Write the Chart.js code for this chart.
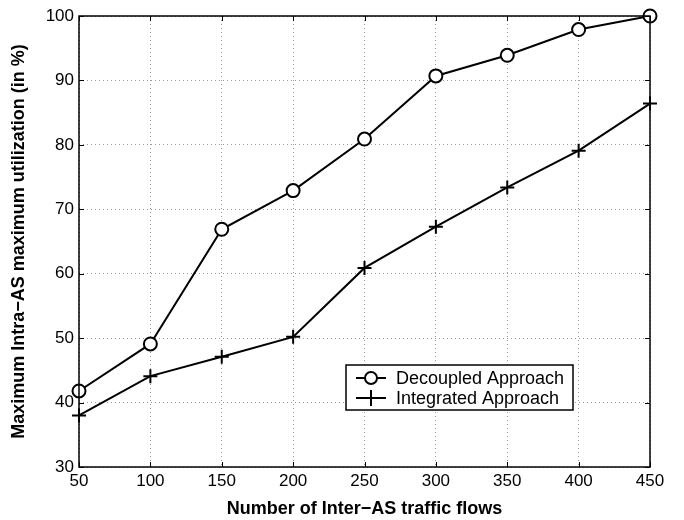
<!DOCTYPE html>
<html>
<head>
<meta charset="utf-8">
<script src="https://cdn.jsdelivr.net/npm/chart.js@4"></script>
<style>
  html, body { margin: 0; padding: 0; background: #fff; }
  #wrap { width: 684px; height: 520px; }
</style>
</head>
<body>
<div id="wrap"><canvas id="utilChart" width="684" height="520"></canvas></div>
<script>
// values
const flows = [50, 100, 150, 200, 250, 300, 350, 400, 450];
const decoupled = [41.8, 49.1, 66.9, 72.9, 80.9, 90.7, 93.9, 97.9, 100];
const integrated = [38.0, 44.1, 47.1, 50.2, 60.9, 67.3, 73.4, 79.1, 86.4];
const seriesNames = ["Decoupled Approach", "Integrated Approach"];

const FONT = "'Liberation Sans', Arial, Helvetica, sans-serif";

function toPoints(ys) {
    return flows.map((x, i) => ({ x: x, y: ys[i] }));
}

// MATLAB-like box with inward ticks plus the inset legend
const boxPlugin = {
    id: "matlabBox",
    afterDraw(chart) {
        const ctx = chart.ctx;
        const a = chart.chartArea;
        const xs = chart.scales.x, ys = chart.scales.y;
        ctx.save();
        ctx.strokeStyle = "#000";
        ctx.lineWidth = 1.5;
        ctx.strokeRect(a.left, a.top, a.right - a.left, a.bottom - a.top);
        ctx.lineWidth = 1;
        const t = 5;
        ctx.beginPath();
        xs.ticks.forEach(tk => {
            const px = Math.round(xs.getPixelForValue(tk.value)) + 0.5;
            ctx.moveTo(px, a.bottom); ctx.lineTo(px, a.bottom - t);
            ctx.moveTo(px, a.top); ctx.lineTo(px, a.top + t);
        });
        ys.ticks.forEach(tk => {
            const py = Math.round(ys.getPixelForValue(tk.value)) + 0.5;
            ctx.moveTo(a.left, py); ctx.lineTo(a.left + t, py);
            ctx.moveTo(a.right, py); ctx.lineTo(a.right - t, py);
        });
        ctx.stroke();

        // legend
        const lx = 346, ly = 365, lw = 227, lh = 45;
        ctx.fillStyle = "#fff";
        ctx.fillRect(lx, ly, lw, lh);
        ctx.lineWidth = 1.5;
        ctx.strokeRect(lx, ly, lw, lh);
        ctx.font = "18px " + FONT;
        ctx.textBaseline = "middle";
        ctx.textAlign = "left";
        seriesNames.forEach((name, i) => {
            const cy = ly + 13 + i * 20;
            ctx.strokeStyle = "#000";
            ctx.lineWidth = 2;
            ctx.beginPath();
            ctx.moveTo(lx + 10, cy); ctx.lineTo(lx + 40, cy);
            ctx.stroke();
            const mx = lx + 25;
            ctx.beginPath();
            if (i === 0) {
                ctx.fillStyle = "#fff";
                ctx.arc(mx, cy, 6, 0, Math.PI * 2);
                ctx.fill();
                ctx.stroke();
            } else {
                ctx.moveTo(mx, cy - 8); ctx.lineTo(mx, cy + 8);
                ctx.stroke();
            }
            ctx.fillStyle = "#000";
            ctx.fillText(name, lx + 50, cy + 1);
        });
        ctx.restore();
    }
};

const ctx = document.getElementById("utilChart").getContext("2d");

new Chart(ctx, {
    type: "line",
    data: {
        datasets: [
            {
                label: seriesNames[0],
                data: toPoints(decoupled),
                borderColor: "#000",
                backgroundColor: "#fff",
                borderWidth: 2,
                pointStyle: "circle",
                pointRadius: 6.5,
                pointBorderWidth: 2,
                pointBackgroundColor: "#fff",
                pointBorderColor: "#000",
                tension: 0,
                clip: false
            },
            {
                label: seriesNames[1],
                data: toPoints(integrated),
                borderColor: "#000",
                backgroundColor: "#000",
                borderWidth: 2,
                pointStyle: "cross",
                pointRadius: 7,
                pointBorderWidth: 2,
                pointBorderColor: "#000",
                tension: 0,
                clip: false
            }
        ]
    },
    options: {
        responsive: false,
        animation: false,
        layout: { padding: { left: 0, right: 34, top: 16, bottom: 0 } },
        plugins: {
            legend: { display: false },
            tooltip: { enabled: false }
        },
        scales: {
            x: {
                type: "linear",
                min: 50,
                max: 450,
                ticks: {
                    stepSize: 50,
                    color: "#000",
                    padding: 4,
                    maxRotation: 0,
                    font: { family: FONT, size: 17 }
                },
                grid: { color: "#9a9a9a", lineWidth: 1, drawTicks: false },
                border: { display: false, dash: [1, 3] },
                title: {
                    display: true,
                    text: "Number of Inter\u2212AS traffic flows",
                    color: "#000",
                    padding: { top: 8, bottom: 0 },
                    font: { family: FONT, size: 18, weight: "bold" }
                },
                afterFit(scale) { scale.height = 53; }
            },
            y: {
                min: 30,
                max: 100,
                ticks: {
                    stepSize: 10,
                    color: "#000",
                    padding: 5,
                    font: { family: FONT, size: 17 }
                },
                grid: { color: "#9a9a9a", lineWidth: 1, drawTicks: false },
                border: { display: false, dash: [1, 3] },
                title: {
                    display: true,
                    text: "Maximum Intra\u2212AS maximum utilization (in %)",
                    color: "#000",
                    padding: { top: 8, bottom: 4 },
                    font: { family: FONT, size: 18, weight: "bold" }
                },
                afterFit(scale) { scale.width = 79; }
            }
        }
    },
    plugins: [boxPlugin]
});
</script>
</body>
</html>
